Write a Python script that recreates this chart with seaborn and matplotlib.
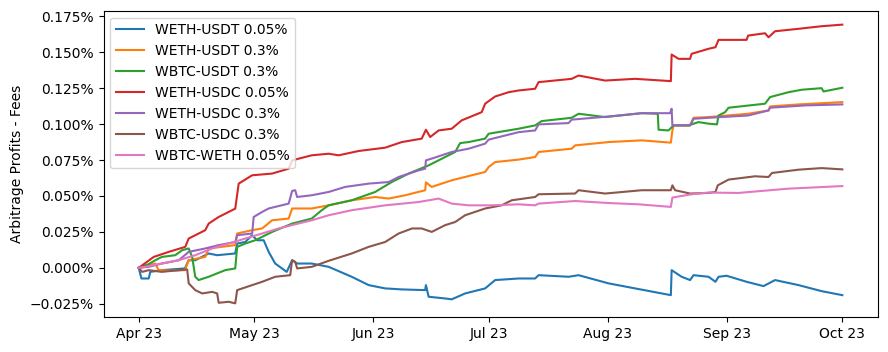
import pandas as pd
import seaborn as sns
import matplotlib.pyplot as plt
import matplotlib.dates as mdates
from matplotlib.ticker import PercentFormatter

# ---------- data (days since 2023-04-01, value in %) ----------
start = pd.Timestamp("2023-04-01")

weth_usdt_005_days = [0, 0.7, 2.6, 3, 6, 12, 13, 14.7, 18.2, 20.4, 25.1, 25.6, 27.7, 29.5, 30.8, 32.5,
                      33.8, 35.5, 38.5, 39.9, 41.2, 45, 49.4, 55.4, 59.8, 64.1, 68.4, 74.5, 74.7, 75.4,
                      79.7, 81.4, 84.9, 90.1, 92.7, 98.8, 103.1, 104, 111.8, 114.4, 122.2, 129.1, 138.4,
                      138.6, 141.2, 143.4, 144.3, 148.2, 150, 150.8, 152.9, 158.1, 162.5, 165.5, 171.6,
                      177.6, 183]
weth_usdt_005 = [0, -0.0074, -0.0074, -0.0028, -0.0016, -0.0004, 0.0053, 0.0053, 0.010, 0.0088, 0.010,
                 0.0169, 0.018, 0.0227, 0.0192, 0.0192, 0.0111, 0.003, -0.0028, 0.0053, 0.003, 0.003,
                 0.0007, -0.0062, -0.012, -0.0143, -0.015, -0.0155, -0.012, -0.0201, -0.0213, -0.0219,
                 -0.0178, -0.0143, -0.0085, -0.0074, -0.0074, -0.0051, -0.0062, -0.0051, -0.0108,
                 -0.0143, -0.019, -0.0016, -0.0062, -0.0085, -0.0051, -0.0062, -0.0097, -0.0062,
                 -0.0055, -0.0097, -0.0127, -0.0085, -0.012, -0.0162, -0.019]

weth_usdt_03_days = [0, 2.6, 4.3, 5.2, 8.7, 12, 13, 17.3, 18.2, 25.1, 25.6, 29.5, 32.1, 34.7, 39, 39.9,
                     45, 49.4, 55.4, 61.5, 65, 69.3, 74.5, 74.7, 76.2, 81.4, 86.6, 90.1, 91, 92.7, 98.8,
                     103.1, 104, 112.6, 113.5, 122.2, 130.8, 138.4, 138.8, 139.1, 143.4, 144.3, 148.2,
                     150, 158.5, 163.8, 164.2, 171.6, 183]
weth_usdt_03 = [0, 0.0019, 0.003, -0.0016, -0.002, -0.0016, 0.0053, 0.0076, 0.0135, 0.0158, 0.0239,
                0.0262, 0.0274, 0.0331, 0.0343, 0.0413, 0.0413, 0.0435, 0.047, 0.0493, 0.0482, 0.0505,
                0.054, 0.0595, 0.0563, 0.0609, 0.0644, 0.0667, 0.0701, 0.0736, 0.0753, 0.0771, 0.0806,
                0.0829, 0.0852, 0.0875, 0.0887, 0.0871, 0.0956, 0.0991, 0.0991, 0.1044, 0.1049, 0.1053,
                0.1072, 0.1095, 0.1123, 0.1137, 0.1153]

wbtc_usdt_03_days = [0, 2.6, 4.3, 6, 9.5, 11.3, 13, 13.9, 14.3, 14.7, 15.6, 18.2, 22.5, 25.1, 25.6, 27.7,
                     30.3, 34.7, 39.9, 45, 47.6, 49.4, 55.4, 61.5, 65.8, 70.2, 75.4, 79.7, 82.3, 83.6,
                     85.8, 90.1, 91, 98.8, 103.1, 104.8, 112.6, 114.4, 121.3, 130.8, 135, 135.2, 137.8,
                     139.1, 143, 145.6, 148.2, 150.4, 150.8, 152.5, 153.4, 162.9, 164.2, 169, 172.4,
                     177.6, 178.1, 183]
wbtc_usdt_03 = [0, 0.0026, 0.0053, 0.0076, 0.0088, 0.0123, 0.0135, 0.0076, 0.0007, -0.0062, -0.0085,
                -0.0062, -0.0016, -0.0004, 0.0146, 0.0169, 0.0192, 0.025, 0.0308, 0.0343, 0.0401,
                0.0435, 0.047, 0.0528, 0.0597, 0.0656, 0.0713, 0.0771, 0.0806, 0.0868, 0.0875, 0.0899,
                0.0933, 0.0968, 0.0991, 0.1021, 0.1044, 0.1072, 0.1049, 0.1076, 0.1072, 0.0961, 0.0956,
                0.0991, 0.0991, 0.1014, 0.1003, 0.0998, 0.106, 0.1083, 0.1114, 0.1142, 0.1188, 0.1222,
                0.1239, 0.125, 0.1227, 0.1253]

weth_usdc_005_days = [0, 3.9, 7.8, 12.1, 13, 17.3, 18.2, 20.8, 25.1, 26, 29.5, 34.7, 39, 39.9, 45, 49.4,
                      52, 57.2, 64.1, 68.4, 73.6, 74.7, 75.8, 78, 81.4, 84, 89.2, 90.1, 92.7, 96.2, 98.8,
                      103.1, 104, 112.6, 114.4, 121.3, 129.1, 138.4, 138.6, 140.4, 143.4, 143.8, 148.2,
                      150, 150.8, 158.1, 158.5, 162.9, 163.8, 165.5, 171.6, 177.6, 183]
weth_usdc_005 = [0, 0.0076, 0.0111, 0.0146, 0.0204, 0.0262, 0.0308, 0.0354, 0.0412, 0.0586, 0.0644,
                 0.0656, 0.069, 0.0748, 0.0783, 0.0794, 0.0783, 0.0813, 0.0836, 0.0875, 0.0899, 0.0961,
                 0.091, 0.0956, 0.0968, 0.1026, 0.1083, 0.1142, 0.1192, 0.1222, 0.1234, 0.1246, 0.1292,
                 0.1315, 0.1338, 0.1303, 0.1315, 0.1299, 0.1484, 0.1454, 0.1454, 0.1489, 0.1524, 0.1535,
                 0.1586, 0.1586, 0.1616, 0.1632, 0.1604, 0.1646, 0.1663, 0.1681, 0.1692]

weth_usdc_03_days = [0, 2.6, 6, 10.4, 13, 17.3, 20.8, 25.1, 25.6, 29.5, 29.9, 32.1, 33.8, 39, 39.9, 40.7,
                     41.2, 45, 49.4, 53.7, 59.8, 65, 67.6, 72.8, 74.5, 74.7, 76.2, 81.4, 85.8, 90.1, 91,
                     98.8, 103.1, 104, 111.8, 112.6, 122.2, 130.8, 138.2, 138.6, 138.8, 143.4, 144.3,
                     148.2, 158.5, 163.8, 164.2, 173.3, 183]
weth_usdc_03 = [0, 0.0007, 0.003, 0.0053, 0.0111, 0.0135, 0.0158, 0.018, 0.0227, 0.0239, 0.0354, 0.0389,
                0.0413, 0.0447, 0.0535, 0.054, 0.0493, 0.0505, 0.0528, 0.0563, 0.0586, 0.0597, 0.0632,
                0.0678, 0.069, 0.0748, 0.076, 0.0806, 0.0829, 0.0864, 0.0892, 0.0944, 0.0956, 0.0998,
                0.1007, 0.1031, 0.1053, 0.1076, 0.1076, 0.1107, 0.0991, 0.0991, 0.1037, 0.1044, 0.106,
                0.1095, 0.1114, 0.113, 0.1137]

wbtc_usdc_03_days = [0, 0.9, 2.6, 6, 10.4, 12.6, 13, 14.7, 16.5, 19.1, 20.4, 20.8, 23.4, 25.1, 25.6,
                     29.5, 32.1, 35.5, 39.4, 39.9, 40.7, 41.2, 45, 49.4, 55.4, 59.8, 64.1, 67.6, 71.1,
                     73.6, 76.2, 79.7, 82.3, 84.9, 90.1, 94.4, 97, 103.1, 104, 113.5, 114.4, 121.3, 130.8,
                     138.4, 138.8, 139.5, 143.4, 148.2, 150, 150.6, 153.4, 160.3, 163.8, 164.7, 171.6,
                     177.6, 183]
wbtc_usdc_03 = [0, -0.0028, -0.0016, -0.0028, -0.0016, -0.0011, -0.0108, -0.0155, -0.0178, -0.0167,
                -0.0178, -0.0243, -0.0236, -0.0247, -0.0155, -0.012, -0.0097, -0.0062, -0.0051, 0.0053,
                0.0042, -0.0004, 0.0007, 0.0049, 0.010, 0.0146, 0.018, 0.0239, 0.0274, 0.0274, 0.025,
                0.0297, 0.0319, 0.0366, 0.0413, 0.0435, 0.047, 0.0493, 0.0512, 0.0517, 0.054, 0.0517,
                0.054, 0.054, 0.0574, 0.054, 0.0517, 0.0521, 0.0528, 0.0574, 0.0614, 0.0637, 0.0632,
                0.066, 0.0683, 0.0694, 0.0685]

wbtc_weth_005_days = [0, 1.7, 6, 10.4, 14.7, 19.1, 23.4, 27.7, 32.1, 36.4, 40.7, 45, 49.4, 55.4, 64.1,
                      72.8, 78, 81.4, 85.8, 91.8, 98.8, 103.1, 104, 113.5, 122.2, 130, 138.4, 138.8,
                      143.8, 148.2, 155.9, 169, 183]
wbtc_weth_005 = [0, 0.0007, 0.003, 0.0053, 0.0088, 0.0135, 0.0169, 0.0204, 0.0239, 0.0274, 0.0303,
                 0.0331, 0.0366, 0.0401, 0.0435, 0.0458, 0.0482, 0.0447, 0.0435, 0.0435, 0.0442, 0.0435,
                 0.0447, 0.0465, 0.0451, 0.0442, 0.0424, 0.0489, 0.0512, 0.0524, 0.0521, 0.0551, 0.0569]

labels = ["WETH-USDT 0.05%", "WETH-USDT 0.3%", "WBTC-USDT 0.3%", "WETH-USDC 0.05%",
          "WETH-USDC 0.3%", "WBTC-USDC 0.3%", "WBTC-WETH 0.05%"]
series_days = [weth_usdt_005_days, weth_usdt_03_days, wbtc_usdt_03_days, weth_usdc_005_days,
               weth_usdc_03_days, wbtc_usdc_03_days, wbtc_weth_005_days]
series_vals = [weth_usdt_005, weth_usdt_03, wbtc_usdt_03, weth_usdc_005,
               weth_usdc_03, wbtc_usdc_03, wbtc_weth_005]

frames = []
for name, d, v in zip(labels, series_days, series_vals):
    frames.append(pd.DataFrame({"date": start + pd.to_timedelta(d, unit="D"),
                                "profit": v, "pool": name}))
df = pd.concat(frames, ignore_index=True)

# ---------- plot ----------
fig, ax = plt.subplots(figsize=(8.88, 3.52), dpi=100)
fig.subplots_adjust(left=0.1166, right=0.9882, top=0.9696, bottom=0.0986)

sns.lineplot(data=df, x="date", y="profit", hue="pool", hue_order=labels,
             palette=sns.color_palette("tab10", 7), estimator=None, linewidth=1.5, ax=ax)

ax.yaxis.set_major_formatter(PercentFormatter(xmax=100, decimals=3))
ax.xaxis.set_major_locator(mdates.MonthLocator())
ax.xaxis.set_major_formatter(mdates.DateFormatter("%b %y"))
ax.set_xlabel("")
ax.set_ylabel("Arbitrage Profits - Fees")
ax.legend(loc="upper left")

plt.savefig("out.png", dpi=100)
